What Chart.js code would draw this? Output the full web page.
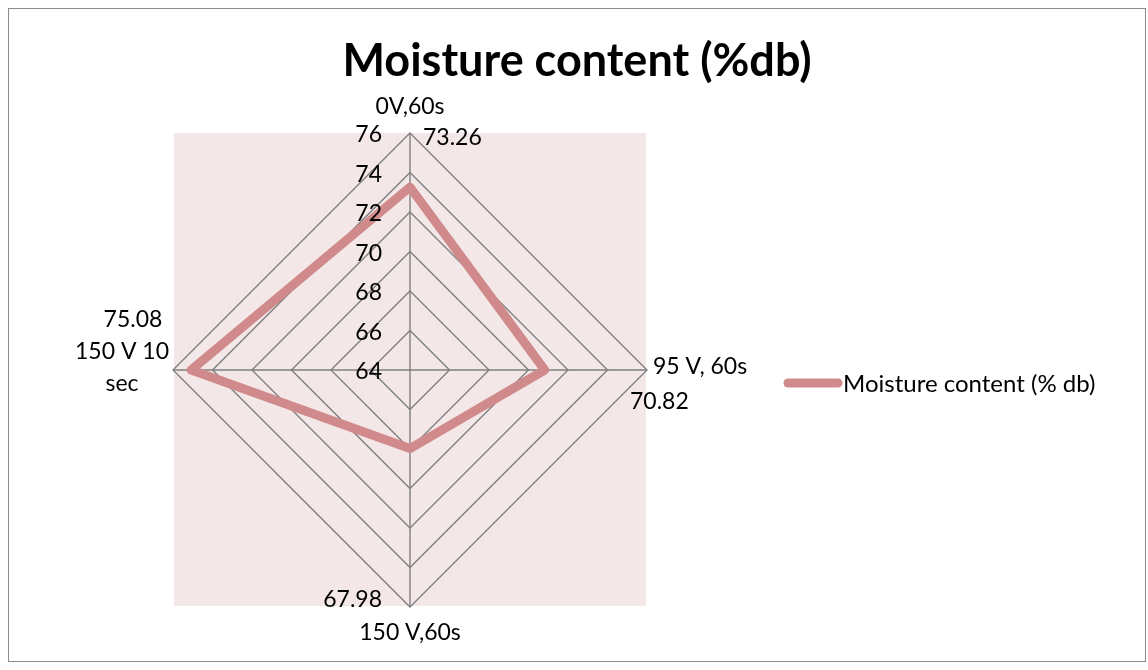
<!DOCTYPE html>
<html>
<head>
<meta charset="utf-8">
<script src="https://cdn.jsdelivr.net/npm/chart.js@4/dist/chart.umd.min.js"></script>
<style>
  html, body { margin: 0; padding: 0; background: #fff; }
  #wrap { width: 1148px; height: 670px; position: relative; }
</style>
</head>
<body>
<div id="wrap"><canvas id="myChart" width="1148" height="670"></canvas></div>
<script>
const categories = ['0V,60s', '95 V, 60s', '150 V,60s', ['150 V 10', 'sec']];
const moisture = [73.26, 70.82, 67.98, 75.08];
const tickValues = [64, 66, 68, 70, 72, 74, 76];
const seriesName = 'Moisture content (% db)';
const chartTitle = 'Moisture content (%db)';

const lineColor = '#d08a8b';
const gridColor = '#7f7f7f';
const labelFont = '23px Lato';

// label offsets from the end of each axis (Excel places them by hand)
const catOffsets = [[0, -26, 'center'], [6, -3, 'left'], [0, 26, 'center'], [-51, -18, 'center']];
const valOffsets = [[13, 5, 'left'], [-17, 32, 'left'], [-28, -7, 'right'], [-40, -50, 'center']];

const extras = {
    id: 'extras',
    beforeDraw(chart) {
        const c = chart.ctx;
        const a = chart.chartArea;
        c.save();
        c.fillStyle = '#f3e7e7';
        c.fillRect(a.left + 1, a.top, a.right - a.left - 2, a.bottom - a.top - 1);
        c.restore();
    },
    afterDraw(chart) {
        const c = chart.ctx;
        const s = chart.scales.r;
        c.save();
        // outer frame
        c.strokeStyle = '#8c8c8c';
        c.lineWidth = 1;
        c.strokeRect(8.5, 8.5, 1137, 653);

        // title
        c.fillStyle = '#000';
        c.font = 'bold 45px Lato';
        c.textAlign = 'center';
        c.textBaseline = 'middle';
        c.fillText(chartTitle, 577, 61);

        c.font = labelFont;
        // tick labels
        c.textAlign = 'right';
        tickValues.forEach(v => {
            const y = s.yCenter - s.getDistanceFromCenterForValue(v);
            c.fillText(String(v), s.xCenter - 28, y + 2);
        });

        const rmax = s.getDistanceFromCenterForValue(s.max);
        categories.forEach((lab, i) => {
            const p = s.getPointPosition(i, rmax);
            const o = catOffsets[i];
            c.textAlign = o[2];
            const lines = Array.isArray(lab) ? lab : [lab];
            lines.forEach((t, k) => c.fillText(t, p.x + o[0], p.y + o[1] + k * 32));
            const q = valOffsets[i];
            c.textAlign = q[2];
            c.fillText(moisture[i].toFixed(2), p.x + q[0], p.y + q[1]);
        });

        // legend
        c.strokeStyle = lineColor;
        c.lineWidth = 9;
        c.lineCap = 'round';
        c.beginPath();
        c.moveTo(788, 383);
        c.lineTo(838, 383);
        c.stroke();
        c.textAlign = 'left';
        c.font = '24px Lato';
        c.fillText(seriesName, 843, 384);
        c.restore();
    }
};

new Chart(document.getElementById('myChart'), {
    type: 'radar',
    data: {
        labels: categories,
        datasets: [{
            label: seriesName,
            data: moisture,
            borderColor: lineColor,
            borderWidth: 9,
            borderJoinStyle: 'round',
            backgroundColor: 'transparent',
            fill: false,
            pointRadius: 0,
            tension: 0
        }]
    },
    options: {
        responsive: false,
        animation: false,
        layout: { padding: { left: 173, right: 501, top: 133, bottom: 63 } },
        plugins: {
            legend: { display: false },
            title: { display: false },
            tooltip: { enabled: false }
        },
        scales: {
            r: {
                min: 64,
                max: 76,
                ticks: { stepSize: 2, display: false },
                pointLabels: { display: false },
                grid: { circular: false, color: gridColor, lineWidth: 1.4 },
                angleLines: { display: true, color: gridColor, lineWidth: 1.4 }
            }
        }
    },
    plugins: [extras]
});
</script>
</body>
</html>
